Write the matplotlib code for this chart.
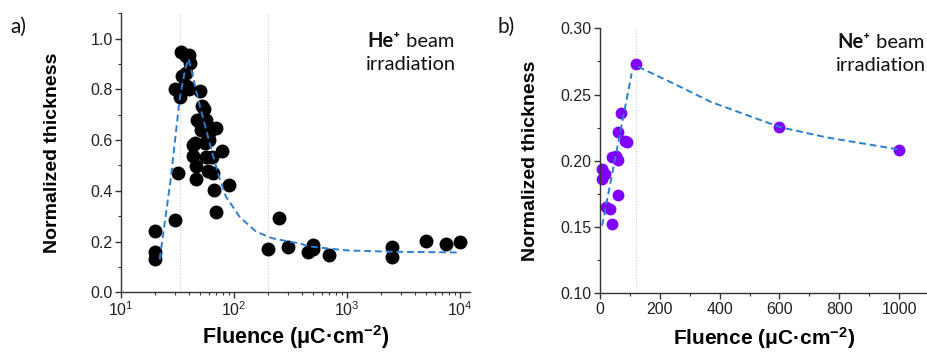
import matplotlib
matplotlib.use("Agg")
import matplotlib.pyplot as plt
from matplotlib.ticker import MultipleLocator, LogLocator, NullFormatter
from matplotlib.offsetbox import TextArea, HPacker, VPacker, AnnotationBbox

plt.rcParams['font.family'] = ['Liberation Sans', 'DejaVu Sans']
plt.rcParams['mathtext.fontset'] = 'custom'
plt.rcParams['mathtext.rm'] = 'Liberation Sans'
plt.rcParams['mathtext.bf'] = 'Liberation Sans:bold'
plt.rcParams['mathtext.it'] = 'Liberation Sans:italic'

# ---------------- data: panel a (He+) ----------------
he_x = [20, 20, 20, 30, 30, 32, 33, 34, 35, 38, 38, 40, 41, 37, 40, 39,
        50, 52, 54, 57, 58, 58, 70, 43, 45, 55, 60, 60, 43, 56, 64, 79,
        46, 59, 65, 46, 66, 91, 70, 47, 51, 50,
        200, 250, 300, 450, 500, 500, 700, 2500, 2500, 5000, 7500, 10000]
he_y = [0.240, 0.157, 0.133, 0.284, 0.800, 0.470, 0.770, 0.946, 0.854, 0.865, 0.930, 0.937, 0.904, 0.819, 0.800, 0.810,
        0.795, 0.733, 0.723, 0.681, 0.656, 0.630, 0.648, 0.582, 0.590, 0.589, 0.600, 0.630, 0.539, 0.532, 0.532, 0.559,
        0.497, 0.477, 0.471, 0.448, 0.402, 0.422, 0.317, 0.680, 0.640, 0.667,
        0.172, 0.293, 0.179, 0.159, 0.188, 0.170, 0.146, 0.177, 0.139, 0.204, 0.191, 0.197]
he_fit_x = [22, 27.5, 33, 37, 39.7, 42, 50, 61, 72, 85, 112, 157, 219, 306, 378, 460, 1000, 2500, 10000]
he_fit_y = [0.13, 0.443, 0.76, 0.88, 0.92, 0.875, 0.733, 0.588, 0.47, 0.377, 0.298, 0.239, 0.213, 0.200, 0.193, 0.181, 0.165, 0.160, 0.157]
he_vlines = [33, 200]

# ---------------- data: panel b (Ne+) ----------------
ne_x = [122, 69, 59, 82, 91, 39, 52, 61, 7, 18, 7, 60, 20, 32, 41, 600, 1000]
ne_y = [0.273, 0.236, 0.222, 0.215, 0.214, 0.2025, 0.2035, 0.2005, 0.194, 0.190, 0.1866, 0.174, 0.1652, 0.1635, 0.152, 0.2255, 0.2085]
ne_fit1_x = [7, 106]
ne_fit1_y = [0.151, 0.266]
ne_fit2_x = [127, 258, 371, 600, 759, 1000]
ne_fit2_y = [0.271, 0.257, 0.2444, 0.2255, 0.2176, 0.2085]
ne_vlines = [120]

W, H = 928, 353
fig = plt.figure(figsize=(W / 100, H / 100), dpi=100)

def px_axes(l, r, t, b):
    return fig.add_axes([l / W, 1 - b / H, (r - l) / W, (b - t) / H])

axa = px_axes(121, 470, 13.3, 292.3)
axb = px_axes(600, 929, 28.3, 293.3)

fit_color = '#2a7fd0'
spine_color = '#333333'

for ax in (axa, axb):
    for s in ('top', 'right'):
        ax.spines[s].set_visible(False)
    for s in ('left', 'bottom'):
        ax.spines[s].set_color(spine_color)
        ax.spines[s].set_linewidth(1.0)
    ax.tick_params(which='major', direction='out', length=4, width=1, color=spine_color,
                   labelsize=11.5, labelcolor='#222222', pad=2)
    ax.tick_params(which='minor', direction='out', length=2.5, width=0.8, color=spine_color)

xlabel_text = r'Fluence (μC·cm$^{\mathbf{-2}}$)'

# ---- panel a ----
for v in he_vlines:
    axa.axvline(v, color='#cccccc', lw=0.8, ls=':', zorder=1)
axa.plot(he_fit_x, he_fit_y, ls=(0, (3.5, 2)), color=fit_color, lw=1.4, zorder=3)
axa.plot(he_x, he_y, 'o', color='black', ms=9, zorder=2, clip_on=False)
axa.set_xscale('log')
axa.set_xlim(10, 12300)
axa.set_ylim(0, 1.1)
axa.yaxis.set_major_locator(MultipleLocator(0.2))
axa.yaxis.set_minor_locator(MultipleLocator(0.1))
axa.yaxis.set_major_formatter(matplotlib.ticker.FormatStrFormatter('%.1f'))
axa.xaxis.set_major_locator(LogLocator(base=10, numticks=10))
axa.xaxis.set_minor_locator(LogLocator(base=10, subs=range(2, 10), numticks=20))
axa.xaxis.set_minor_formatter(NullFormatter())
axa.set_ylabel('Normalized thickness', fontsize=14, fontweight='bold')
axa.yaxis.set_label_coords(-0.172, 0.5)
axa.set_xlabel(xlabel_text, fontsize=15.5, fontweight='bold', va='bottom')
axa.xaxis.set_label_coords(0.5, -59 / 279)

# ---- panel b ----
for v in ne_vlines:
    axb.axvline(v, color='#cccccc', lw=0.8, ls=':', zorder=1)
axb.plot(ne_fit1_x, ne_fit1_y, ls=(0, (3.5, 2)), color=fit_color, lw=1.4, zorder=3)
axb.plot(ne_fit2_x, ne_fit2_y, ls=(0, (3.5, 2)), color=fit_color, lw=1.4, zorder=3)
axb.plot(ne_x, ne_y, 'o', color='#8000ff', ms=7.5, zorder=2, clip_on=False)
axb.set_xlim(0, 1100)
axb.set_ylim(0.10, 0.30)
axb.yaxis.set_major_locator(MultipleLocator(0.05))
axb.yaxis.set_minor_locator(MultipleLocator(0.025))
axb.yaxis.set_major_formatter(matplotlib.ticker.FormatStrFormatter('%.2f'))
axb.xaxis.set_major_locator(MultipleLocator(200))
axb.xaxis.set_minor_locator(MultipleLocator(100))
axb.set_ylabel('Normalized thickness', fontsize=14, fontweight='bold')
axb.yaxis.set_label_coords(-0.185, 0.5)
axb.set_xlabel(xlabel_text, fontsize=15, fontweight='bold', va='bottom')
axb.xaxis.set_label_coords(0.5, -58 / 265)

# ---- annotations ----
ann_fam = ['Lato', 'DejaVu Sans']

def beam_label(ion, cx, cy):
    l1 = HPacker(children=[TextArea(ion, textprops=dict(family=ann_fam, fontsize=14.5, fontweight='bold', color='#111111')),
                           TextArea(' beam', textprops=dict(family=ann_fam, fontsize=14.5, color='#111111'))],
                 align='baseline', pad=0, sep=0)
    l2 = TextArea('irradiation', textprops=dict(family=ann_fam, fontsize=14.5, color='#111111'))
    box = VPacker(children=[l1, l2], align='center', pad=0, sep=4)
    ab = AnnotationBbox(box, (cx, H - cy), xycoords='figure pixels', frameon=False,
                        box_alignment=(0.5, 0.5))
    fig.add_artist(ab)

beam_label('He⁺', 411, 52)
beam_label('Ne⁺', 881, 53)

fig.text(10 / W, 1 - 27 / H, 'a)', family=ann_fam, fontsize=15, va='center', ha='left', color='#111111')
fig.text(498 / W, 1 - 27 / H, 'b)', family=ann_fam, fontsize=15, va='center', ha='left', color='#111111')

fig.savefig('out.png', dpi=100)
